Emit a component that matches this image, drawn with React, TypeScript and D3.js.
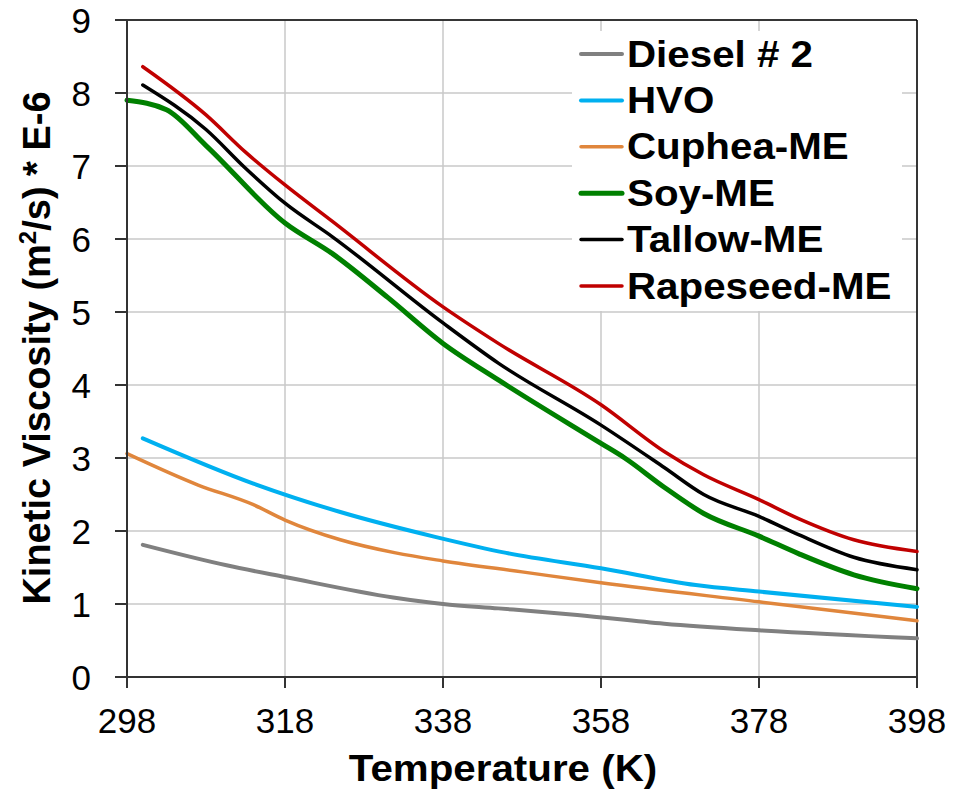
import React from 'react';
import * as d3 from 'd3';

// temperatures (K) and kinetic viscosity (m2/s * E-6)
const dieselT = [300, 310.6, 318, 331.7, 338, 345, 355, 366, 378, 398];
const dieselV = [1.81, 1.53, 1.37, 1.09, 1.0, 0.94, 0.85, 0.73, 0.64, 0.53];

const hvoT = [300, 314, 325, 337, 346, 358, 370, 378, 398];
const hvoV = [3.27, 2.65, 2.26, 1.92, 1.7, 1.49, 1.26, 1.17, 0.96];

const cupheaT = [298, 307, 314, 318, 325, 332, 338, 348, 358, 378, 398];
const cupheaV = [3.06, 2.63, 2.36, 2.15, 1.88, 1.7, 1.59, 1.44, 1.29, 1.03, 0.77];

const soyT = [298, 303, 308, 318, 324, 331, 338, 345, 358, 361, 366, 371, 378, 383, 390, 398];
const soyV = [7.9, 7.77, 7.28, 6.22, 5.8, 5.2, 4.57, 4.07, 3.2, 3.0, 2.6, 2.24, 1.93, 1.69, 1.4, 1.21];

const tallowT = [300, 308, 313, 318, 324, 338, 345, 358, 366, 371, 378, 383, 390, 398];
const tallowV = [8.11, 7.5, 6.97, 6.49, 6.03, 4.85, 4.3, 3.45, 2.87, 2.5, 2.2, 1.95, 1.64, 1.47];

const rapeT = [300, 308, 313, 318, 324, 338, 345, 358, 366, 371, 378, 383, 390, 398];
const rapeV = [8.36, 7.7, 7.19, 6.74, 6.24, 5.07, 4.57, 3.73, 3.09, 2.77, 2.43, 2.17, 1.88, 1.72];

const seriesNames = ['Diesel # 2', 'HVO', 'Cuphea-ME', 'Soy-ME', 'Tallow-ME', 'Rapeseed-ME'];
const xTicks = [298, 318, 338, 358, 378, 398];
const yTicks = [0, 1, 2, 3, 4, 5, 6, 7, 8, 9];

const seriesT = [dieselT, hvoT, cupheaT, soyT, tallowT, rapeT];
const seriesV = [dieselV, hvoV, cupheaV, soyV, tallowV, rapeV];
const colors = ['#808080', '#00B0F0', '#E0863C', '#008000', '#000000', '#C00000'];
const widths = [4, 4, 3.5, 5, 3.5, 3.5];

const W = 953;
const H = 793;
const font = 'Arial, "Liberation Sans", sans-serif';

export default function App() {
  const x = d3.scaleLinear().domain([298, 398]).range([127, 917]);
  const y = d3.scaleLinear().domain([0, 9]).range([677, 20]);

  const lineGen = d3
    .line<[number, number]>()
    .x(d => x(d[0]))
    .y(d => y(d[1]))
    .curve(d3.curveMonotoneX);

  const legendY = d3.scaleLinear().domain([0, 5]).range([54, 286]);

  return (
    <svg width={W} height={H} style={{ position: 'absolute', left: 0, top: 0, background: '#fff' }}>
      {/* grid */}
      <g stroke="#c8c8c8" strokeWidth={1.5}>
        {yTicks.slice(1).map(t => (
          <line key={'gy' + t} x1={x(298)} x2={x(398)} y1={y(t)} y2={y(t)} />
        ))}
        {xTicks.slice(1).map(t => (
          <line key={'gx' + t} x1={x(t)} x2={x(t)} y1={y(0)} y2={y(9)} />
        ))}
      </g>

      {/* frame top/right */}
      <line x1={x(298)} x2={x(398)} y1={y(9)} y2={y(9)} stroke="#000" strokeWidth={1.5} />
      <line x1={x(398)} x2={x(398)} y1={y(9)} y2={y(0)} stroke="#000" strokeWidth={1.5} />

      {/* series */}
      {seriesT.map((ts, i) => (
        <path
          key={seriesNames[i]}
          d={lineGen(ts.map((t, j) => [t, seriesV[i][j]] as [number, number])) || ''}
          fill="none"
          stroke={colors[i]}
          strokeWidth={widths[i]}
          strokeLinecap="round"
          strokeLinejoin="round"
        />
      ))}

      {/* axes */}
      <g stroke="#333" strokeWidth={2}>
        <line x1={x(298)} x2={x(298)} y1={y(9)} y2={y(0) + 11} />
        <line x1={x(298) - 12} x2={x(398)} y1={y(0)} y2={y(0)} />
        {yTicks.map(t => (
          <line key={'ty' + t} x1={x(298) - 12} x2={x(298)} y1={y(t)} y2={y(t)} />
        ))}
        {xTicks.map(t => (
          <line key={'tx' + t} x1={x(t)} x2={x(t)} y1={y(0)} y2={y(0) + 11} />
        ))}
      </g>

      {/* tick labels */}
      <g fontFamily={font} fontSize={35} fill="#000">
        {yTicks.map(t => (
          <text key={'ly' + t} x={91} y={y(t)} dy="0.36em" textAnchor="end">
            {t}
          </text>
        ))}
        {xTicks.map(t => (
          <text key={'lx' + t} x={x(t)} y={733} textAnchor="middle">
            {t}
          </text>
        ))}
      </g>

      {/* axis titles */}
      <text
        x={0}
        y={0}
        transform={`translate(503,781) scale(1.09,1)`}
        textAnchor="middle"
        fontFamily={font}
        fontWeight="bold"
        fontSize={37}
      >
        Temperature (K)
      </text>
      <text
        transform={`translate(50,348) rotate(-90)`}
        textAnchor="middle"
        fontFamily={font}
        fontWeight="bold"
        fontSize={38}
      >
        Kinetic Viscosity (m
        <tspan fontSize={24} dy={-14}>
          2
        </tspan>
        <tspan dy={14}>/s) * E-6</tspan>
      </text>

      {/* legend */}
      <rect x={572} y={31} width={330} height={280} fill="#fff" />
      {seriesNames.map((name, i) => (
        <g key={'lg' + name}>
          <line
            x1={581}
            x2={622}
            y1={legendY(i)}
            y2={legendY(i)}
            stroke={colors[i]}
            strokeWidth={widths[i]}
            strokeLinecap="round"
          />
          <text
            transform={`translate(627,${legendY(i) + 12.5}) scale(1.09,1)`}
            fontFamily={font}
            fontWeight="bold"
            fontSize={37}
          >
            {name}
          </text>
        </g>
      ))}
    </svg>
  );
}
